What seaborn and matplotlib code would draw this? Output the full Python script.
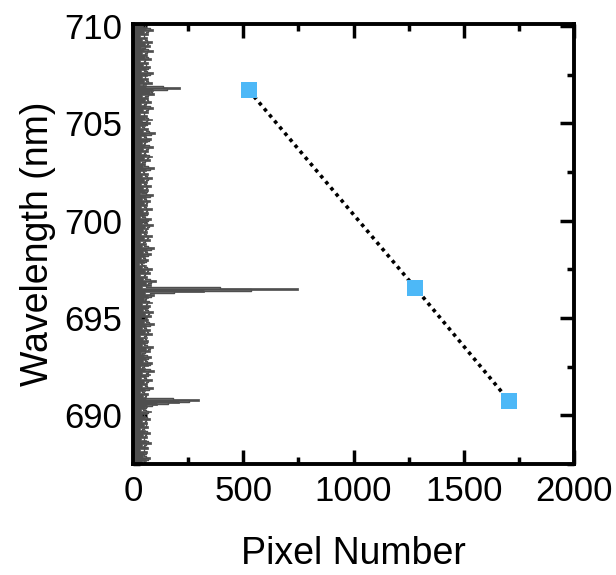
import numpy as np
import pandas as pd
import matplotlib
matplotlib.use("Agg")
import matplotlib.pyplot as plt
import seaborn as sns

# spectrum (intensity vs wavelength), sampled every 0.1 nm from 687.4 nm
spec_wl = np.round(np.arange(687.4, 710.35, 0.1), 1)
spec_int = [
    55, 70, 40, 60, 75, 45,
    50, 65, 30, 70, 55, 40, 80, 60, 35, 65,
    45, 75, 55, 30, 70, 50, 65, 40, 75, 55,
    40, 60, 80, 35, 55, 65, 110, 210, 300, 60,
    45, 70, 30, 55, 90, 40, 65, 50, 85, 35,
    60, 75, 40, 95, 55, 30, 70, 85, 45, 60,
    80, 50, 35, 75, 60, 90, 40, 55, 70, 45,
    65, 30, 85, 55, 75, 40, 60, 95, 50, 70,
    35, 80, 55, 90, 45, 65, 75, 40, 85, 60,
    50, 70, 95, 55, 320, 750, 40, 80, 60, 105,
    45, 65, 30, 75, 55, 85, 40, 60, 25, 50,
    70, 35, 55, 80, 45, 65, 95, 40, 60, 30,
    75, 50, 85, 35, 65, 45, 70, 55, 90, 40,
    60, 80, 30, 55, 70, 45, 85, 35, 65, 50,
    75, 40, 60, 90, 30, 55, 70, 45, 80, 35,
    65, 50, 85, 40, 70, 30, 60, 95, 45, 55,
    30, 75, 50, 85, 60, 35, 70, 45, 90, 55,
    40, 65, 80, 35, 60, 100, 45, 70, 30, 55,
    75, 40, 85, 55, 65, 30, 70, 45, 90, 60,
    35, 80, 55, 70, 40, 95, 75, 90, 215, 60,
    30, 85, 50, 70, 40, 65, 90, 35, 60, 75,
    45, 70, 30, 80, 55, 65, 40, 90, 50, 35,
    75, 55, 85, 40, 65, 30, 70, 50, 90, 60,
    45, 65, 55, 70,
]

# calibration points
cal_pixel = [525, 1280, 1705]
cal_wl = [706.7, 696.55, 690.75]

spec = pd.DataFrame({"intensity": spec_int, "wavelength": spec_wl[:len(spec_int)]})
cal = pd.DataFrame({"pixel": cal_pixel, "wavelength": cal_wl})

sns.set_style("ticks", {"axes.edgecolor": "black", "text.color": "black",
                        "xtick.color": "black", "ytick.color": "black",
                        "axes.labelcolor": "black"})
plt.rcParams["font.family"] = ["Liberation Sans", "DejaVu Sans"]

fig = plt.figure(figsize=(6.16, 5.75), dpi=100)
ax = fig.add_axes([0.216, 0.193, 0.716, 0.765])

gray = "#4f4f4f"
ax.fill_betweenx(spec["wavelength"], 0, spec["intensity"], step="mid",
                 facecolor=gray, edgecolor=gray, linewidth=0.5)
sns.lineplot(data=spec, x="intensity", y="wavelength", orient="y", sort=False,
             color=gray, linewidth=1.0, drawstyle="steps-mid", ax=ax)
sns.lineplot(data=cal, x="pixel", y="wavelength", sort=False, color="black",
             linestyle=(0, (1, 1.2)), linewidth=2.6, ax=ax)
sns.scatterplot(data=cal, x="pixel", y="wavelength", marker="s", s=130,
                color="#4DB8F7", edgecolor="none", zorder=5, ax=ax)

ax.set_xlim(0, 2000)
ax.set_ylim(687.55, 710.1)
ax.set_xticks([0, 500, 1000, 1500, 2000])
ax.set_yticks([690, 695, 700, 705, 710])
ax.set_xticks([250, 750, 1250, 1750], minor=True)
ax.set_yticks([687.5, 692.5, 697.5, 702.5, 707.5], minor=True)
ax.tick_params(which="both", direction="in", top=True, right=True, width=2.5,
               labelsize=25, pad=8, colors="black")
ax.tick_params(which="major", length=10)
ax.tick_params(which="minor", length=5)
for s in ax.spines.values():
    s.set_linewidth(2.8)
    s.set_color("black")
    s.set_zorder(6)

ax.set_xlabel("Pixel Number", fontsize=27, labelpad=20, color="black")
ax.set_ylabel("Wavelength (nm)", fontsize=27, labelpad=6, color="black")

fig.savefig("out.png", dpi=100)
